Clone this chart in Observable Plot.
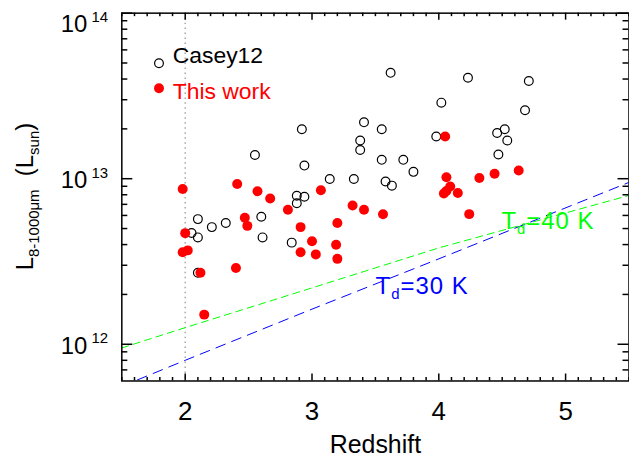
<!DOCTYPE html>
<html><head><meta charset="utf-8">
<script src="https://cdn.jsdelivr.net/npm/d3@7"></script>
<script src="https://cdn.jsdelivr.net/npm/@observablehq/plot@0.6"></script>
<style>
html,body{margin:0;padding:0;background:#fff;overflow:hidden;width:629px;height:457px}
svg{display:block}
</style></head><body><div id="chart"></div>
<script>
// Casey12 (open circles)
const caseyZ = [2.10, 2.21, 2.32, 2.05, 2.10, 2.10, 2.55, 2.60, 2.61, 2.84, 2.88, 2.94, 2.88, 2.92, 2.94, 3.14, 3.33, 3.41, 3.38, 3.38, 3.55, 3.55, 3.62, 3.58, 3.63, 3.72, 3.80, 3.98, 4.02, 4.23, 4.46, 4.52, 4.54, 4.47, 4.68, 4.71];
const caseyL = [5.70e12, 5.10e12, 5.40e12, 4.70e12, 4.42e12, 2.70e12, 1.39e13, 5.89e12, 4.42e12, 4.11e12, 7.89e12, 7.78e12, 7.11e12, 1.99e13, 1.20e13, 9.95e12, 9.95e12, 2.19e13, 1.70e13, 1.49e13, 1.99e13, 1.30e13, 4.36e13, 9.63e12, 9.08e12, 1.30e13, 1.10e13, 1.80e13, 2.88e13, 4.07e13, 1.89e13, 1.99e13, 1.70e13, 1.40e13, 2.59e13, 3.89e13];
// This work (red filled)
const workZ = [1.98, 2.00, 1.98, 2.02, 2.12, 2.15, 2.40, 2.41, 2.47, 2.49, 2.57, 2.67, 2.81, 2.91, 2.91, 3.00, 3.03, 3.07, 3.20, 3.19, 3.20, 3.32, 3.41, 3.56, 4.05, 4.06, 4.09, 4.06, 4.04, 4.15, 4.24, 4.32, 4.44, 4.63];
const workL = [8.66e12, 4.69e12, 3.60e12, 3.69e12, 2.70e12, 1.51e12, 2.89e12, 9.29e12, 5.81e12, 5.19e12, 8.39e12, 7.59e12, 6.49e12, 5.10e12, 3.60e12, 4.19e12, 3.49e12, 8.51e12, 5.40e12, 3.99e12, 3.28e12, 6.89e12, 6.50e12, 6.10e12, 1.80e13, 1.02e13, 8.97e12, 8.43e12, 8.13e12, 8.20e12, 6.11e12, 1.01e13, 1.07e13, 1.12e13];
// Dust-temperature detection curves
const td40Z = [1.5, 2, 3, 4, 5.5];
const td40L = [9.5e11, 1.26e12, 2.19e12, 3.82e12, 7.92e12];
const td30Z = [1.5, 2, 3, 4, 5.5];
const td30L = [5.57e11, 8.0e11, 1.63e12, 3.28e12, 9.5e12];
const refZ = [2];
// tick labels
const xTickLabels = [2, 3, 4, 5];
const yTickValues = [1e12, 1e13, 1e14];
const legendLabels = ["Casey12", "This work"];
const tdLabels = ["40", "30"];

const casey = caseyZ.map((z, i) => ({z, L: caseyL[i]}));
const work = workZ.map((z, i) => ({z, L: workL[i]}));
const td40 = td40Z.map((z, i) => ({z, L: td40L[i]}));
const td30 = td30Z.map((z, i) => ({z, L: td30L[i]}));

const W = 631, H = 457;
const mL = 121.7, mR = 0.5, mT = 12.7, mB = 75.3;
const fw = W - mL - mR, fh = H - mT - mB;
const FONT = "'Liberation Sans', Arial, sans-serif";

const xMinor = d3.range(15, 56).map(d => d / 10).filter(d => !xTickLabels.includes(d));
const yMinor = [];
for (const e of [11, 12, 13]) for (let m = 2; m <= 9; m++) { const v = m * 10 ** e; if (v > 6.01e11 && v < 1e14) yMinor.push(v); }

const plot = Plot.plot({
  width: W, height: H,
  marginLeft: mL, marginRight: mR, marginTop: mT, marginBottom: mB,
  style: {fontFamily: FONT, background: "white", overflow: "visible"},
  x: {domain: [1.5, 5.5], axis: null},
  y: {type: "log", domain: [6e11, 1e14], axis: null},
  marks: [
    Plot.ruleX(refZ, {x: d => d, stroke: "#a8a8a8", strokeWidth: 1.5, strokeDasharray: "1.5,3.5"}),
    Plot.line(td40, {x: "z", y: "L", stroke: "#00ff00", strokeWidth: 1, strokeDasharray: "7,5", clip: true}),
    Plot.line(td30, {x: "z", y: "L", stroke: "#0000ff", strokeWidth: 1, strokeDasharray: "10,7", clip: true}),
    Plot.dot(casey, {x: "z", y: "L", r: 4.4, stroke: "black", strokeWidth: 1.2, fill: "none"}),
    Plot.dot(work, {x: "z", y: "L", r: 5, fill: "#ff0000", stroke: "none"}),
    // ticks (inward, all four sides)
    Plot.ruleX(xTickLabels, {x: d => d, insetTop: fh - 7, stroke: "black", strokeWidth: 1.5}),
    Plot.ruleX(xTickLabels, {x: d => d, insetBottom: fh - 7, stroke: "black", strokeWidth: 1.5}),
    Plot.ruleX(xMinor, {x: d => d, insetTop: fh - 3.5, stroke: "black", strokeWidth: 1.5}),
    Plot.ruleX(xMinor, {x: d => d, insetBottom: fh - 3.5, stroke: "black", strokeWidth: 1.5}),
    Plot.ruleY(yTickValues, {y: d => d, insetRight: fw - 11, stroke: "black", strokeWidth: 1.5}),
    Plot.ruleY(yTickValues, {y: d => d, insetLeft: fw - 11, stroke: "black", strokeWidth: 1.5}),
    Plot.ruleY(yMinor, {y: d => d, insetRight: fw - 6, stroke: "black", strokeWidth: 1.5}),
    Plot.ruleY(yMinor, {y: d => d, insetLeft: fw - 6, stroke: "black", strokeWidth: 1.5}),
    Plot.frame({stroke: "black", strokeWidth: 1.5}),
    // x tick labels
    Plot.text(xTickLabels, {x: d => d, frameAnchor: "bottom", dy: 31, text: d => String(d), fontSize: 26, fill: "black", lineAnchor: "middle"}),
    Plot.text(["Redshift"], {frameAnchor: "bottom", dy: 64, text: d => d, fontSize: 25, fill: "black", lineAnchor: "middle", ariaLabel: "xtitle"}),
    // y tick labels 10^n
    Plot.text(yTickValues.filter(d => d < 1e14), {y: d => d, frameAnchor: "left", dx: -34.7, dy: 2, text: () => "10", textAnchor: "end", fontSize: 24, fill: "black", lineAnchor: "middle"}),
    Plot.text(yTickValues.filter(d => d < 1e14), {y: d => d, frameAnchor: "left", dx: -13.7, dy: -6, text: d => String(Math.round(Math.log10(d))), textAnchor: "end", fontSize: 15, fill: "black", lineAnchor: "middle"}),
    Plot.text(yTickValues.filter(d => d >= 1e14), {y: d => d, frameAnchor: "left", dx: -34.7, dy: 11, text: () => "10", textAnchor: "end", fontSize: 24, fill: "black", lineAnchor: "middle"}),
    Plot.text(yTickValues.filter(d => d >= 1e14), {y: d => d, frameAnchor: "left", dx: -13.7, dy: 4, text: d => String(Math.round(Math.log10(d))), textAnchor: "end", fontSize: 15, fill: "black", lineAnchor: "middle"}),
    // legend
    Plot.dot([legendLabels[0]], {frameAnchor: "top-left", dx: 37.3, dy: 50.3, r: 4.4, stroke: "black", strokeWidth: 1.2, fill: "none"}),
    Plot.text([legendLabels[0]], {frameAnchor: "top-left", dx: 51, dy: 42.3, text: d => d, textAnchor: "start", fontSize: 23, fill: "black", lineAnchor: "middle"}),
    Plot.dot([legendLabels[1]], {frameAnchor: "top-left", dx: 37.3, dy: 75.3, r: 5, fill: "#ff0000"}),
    Plot.text([legendLabels[1]], {frameAnchor: "top-left", dx: 51, dy: 79, text: d => d, textAnchor: "start", fontSize: 23, fill: "#ff0000", lineAnchor: "middle", ariaLabel: "legend-work"})
  ]
});
document.getElementById("chart").appendChild(plot);

const svg = d3.select(plot);
svg.select('[aria-label="xtitle"]').style("letter-spacing", "1.6px");
svg.select('[aria-label="legend-work"]').style("letter-spacing", "0.6px");

const sx = plot.scale("x"), sy = plot.scale("y");
function tdLabel(z, L, t, color) {
  const g = svg.append("text").attr("x", sx.apply(z)).attr("y", sy.apply(L))
    .attr("text-anchor", "start").style("letter-spacing", "1px")
    .attr("fill", color).attr("font-size", 24).attr("font-family", FONT);
  g.append("tspan").text("T");
  g.append("tspan").attr("font-size", 15).attr("dy", 5).text("d");
  g.append("tspan").attr("dy", -5).text("=" + t + " K");
}
tdLabel(4.498, 4.9e12, tdLabels[0], "#00ff00");
tdLabel(3.505, 2.0e12, tdLabels[1], "#0000ff");

// y axis title
const yt = svg.append("text")
  .attr("transform", `translate(33,${(mT + H - mB) / 2}) rotate(-90)`)
  .attr("text-anchor", "middle").attr("font-size", 24).attr("font-family", FONT).attr("fill", "black");
yt.append("tspan").text("L");
yt.append("tspan").attr("font-size", 15).attr("dy", 6).text("8-1000\u03bcm");
yt.append("tspan").attr("dy", -6).text("  (L");
yt.append("tspan").attr("font-size", 15).attr("dy", 6).text("sun");
yt.append("tspan").attr("dy", -6).text(")");
</script>
</body></html>
